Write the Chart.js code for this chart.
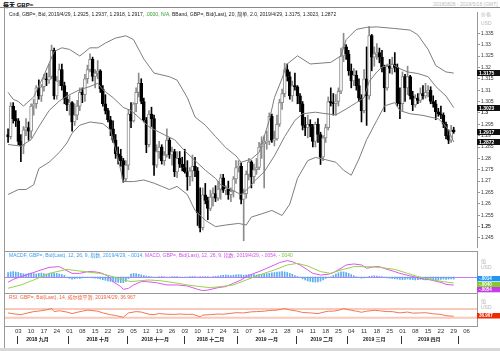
<!DOCTYPE html>
<html>
<head>
<meta charset="utf-8">
<script src="https://cdn.jsdelivr.net/npm/chart.js@4.4.0/dist/chart.umd.min.js"></script>
<style>
body { margin: 0; width: 500px; height: 351px; background: #fff; position: relative; overflow: hidden; }
canvas { position: absolute; left: 0; }
.ln { position: absolute; background: #999; }
.txt { position: absolute; font-family: "Liberation Sans", "Noto Sans CJK SC", sans-serif; white-space: nowrap; }
</style>
</head>
<body>
<div class="txt" style="left:3px;top:0px;font-size:6px;font-weight:bold;">每天 GBP=</div>
<div class="txt" style="right:2px;top:1px;font-size:5px;color:#bbb;">20180828 - 2019/5/18 (GMT)</div>
<div class="ln" style="left:0;top:7px;width:500px;height:1px;background:#888;"></div>
<div class="ln" style="left:4px;top:8px;width:1px;height:340px;"></div>
<div class="ln" style="left:5px;top:251px;width:472px;height:1px;"></div>
<div class="ln" style="left:5px;top:293px;width:472px;height:1px;"></div>
<div class="ln" style="left:0;top:348px;width:500px;height:3px;background:#d8d8d8;"></div>
<canvas id="main" width="500" height="243" style="top:8px"></canvas>
<canvas id="macd" width="500" height="42" style="top:251px"></canvas>
<canvas id="rsi" width="500" height="58" style="top:293px"></canvas>
<script>
// Daily GBP= candles, 2018/8/28 .. 2019/4/29 (index 0 = 2018/9/3, weekdays)
const openP = [1.2905,1.2895,1.3030,1.2975,1.2965,1.2875,1.2855,1.2925,1.2935,1.2920,1.3030,1.3040,1.3110,1.3075,1.3115,1.3150,1.3145,1.3160,1.3275,1.3075,1.3140,1.3190,1.3120,1.3060,1.3035,1.3045,1.2960,1.2990,1.3030,1.3090,1.3080,1.3150,1.3190,1.3235,1.3160,1.3175,1.3185,1.3105,1.3040,1.3010,1.2970,1.2930,1.2880,1.2820,1.2810,1.2790,1.2710,1.2770,1.2995,1.2965,1.3040,1.3090,1.3130,1.3050,1.2970,1.2860,1.2995,1.2975,1.2770,1.2830,1.2850,1.2790,1.2815,1.2880,1.2815,1.2830,1.2740,1.2800,1.2775,1.2760,1.2740,1.2720,1.2745,1.2765,1.2745,1.2560,1.2495,1.2640,1.2615,1.2580,1.2630,1.2645,1.2625,1.2665,1.2715,1.2660,1.2665,1.2640,1.2655,1.2710,1.2760,1.2765,1.2620,1.2645,1.2730,1.2785,1.2720,1.2750,1.2760,1.2850,1.2865,1.2870,1.2875,1.2985,1.2880,1.2885,1.2950,1.3045,1.3085,1.3190,1.3160,1.3075,1.3120,1.3115,1.3075,1.3040,1.2945,1.2935,1.2950,1.2940,1.2875,1.2950,1.2905,1.2805,1.2890,1.2935,1.3050,1.3045,1.3040,1.3050,1.3095,1.3250,1.3290,1.3260,1.3185,1.3140,1.3165,1.3120,1.3065,1.3010,1.3150,1.3075,1.3340,1.3245,1.3260,1.3265,1.3245,1.3200,1.3110,1.3205,1.3195,1.3215,1.3200,1.3045,1.3040,1.3160,1.3110,1.3160,1.3075,1.3035,1.3065,1.3055,1.3085,1.3075,1.3090,1.3100,1.3050,1.3040,1.3005,1.2995,1.2990,1.2950,1.2900,1.2880,1.2925];
const highP = [1.2930,1.3045,1.3045,1.3010,1.2975,1.2905,1.2940,1.2975,1.2960,1.3040,1.3060,1.3120,1.3145,1.3125,1.3170,1.3175,1.3215,1.3298,1.3285,1.3160,1.3215,1.3215,1.3135,1.3090,1.3075,1.3050,1.3040,1.3055,1.3110,1.3110,1.3170,1.3210,1.3260,1.3245,1.3190,1.3230,1.3190,1.3120,1.3080,1.3020,1.2985,1.2965,1.2905,1.2850,1.2840,1.2800,1.2790,1.3015,1.3045,1.3045,1.3110,1.3175,1.3150,1.3065,1.2980,1.3010,1.3025,1.2990,1.2860,1.2875,1.2860,1.2830,1.2930,1.2890,1.2850,1.2840,1.2830,1.2830,1.2805,1.2840,1.2790,1.2760,1.2815,1.2805,1.2760,1.2670,1.2670,1.2690,1.2630,1.2660,1.2670,1.2680,1.2700,1.2730,1.2730,1.2680,1.2700,1.2670,1.2720,1.2790,1.2790,1.2780,1.2665,1.2745,1.2800,1.2790,1.2775,1.2800,1.2870,1.2895,1.2900,1.2920,1.3000,1.2995,1.2920,1.2990,1.3060,1.3105,1.3218,1.3215,1.3180,1.3140,1.3175,1.3120,1.3085,1.3050,1.2980,1.2990,1.2970,1.2950,1.2960,1.2975,1.2915,1.2900,1.2950,1.3070,1.3110,1.3085,1.3080,1.3110,1.3285,1.3350,1.3300,1.3275,1.3215,1.3195,1.3185,1.3150,1.3080,1.3190,1.3290,1.3380,1.3345,1.3290,1.3305,1.3285,1.3275,1.3210,1.3215,1.3235,1.3245,1.3265,1.3215,1.3110,1.3180,1.3170,1.3205,1.3165,1.3095,1.3080,1.3085,1.3110,1.3120,1.3130,1.3120,1.3115,1.3075,1.3055,1.3020,1.3030,1.3000,1.2960,1.2925,1.2945,1.2937];
const lowP = [1.2870,1.2885,1.2955,1.2940,1.2860,1.2785,1.2820,1.2900,1.2880,1.2890,1.2990,1.3020,1.3060,1.3050,1.3095,1.3120,1.3130,1.3150,1.3060,1.3060,1.3120,1.3100,1.3040,1.3010,1.2990,1.2920,1.2945,1.2970,1.3010,1.3045,1.3050,1.3130,1.3180,1.3140,1.3110,1.3150,1.3090,1.3030,1.2995,1.2960,1.2900,1.2870,1.2800,1.2775,1.2765,1.2695,1.2700,1.2750,1.2935,1.2960,1.3005,1.3070,1.3040,1.2960,1.2825,1.2850,1.2940,1.2725,1.2760,1.2800,1.2775,1.2770,1.2805,1.2800,1.2770,1.2720,1.2715,1.2760,1.2745,1.2735,1.2660,1.2680,1.2700,1.2720,1.2505,1.2477,1.2485,1.2600,1.2530,1.2570,1.2590,1.2610,1.2615,1.2620,1.2650,1.2640,1.2620,1.2610,1.2630,1.2690,1.2740,1.2600,1.2438,1.2625,1.2705,1.2670,1.2690,1.2730,1.2750,1.2800,1.2670,1.2840,1.2860,1.2870,1.2855,1.2880,1.2940,1.3015,1.3070,1.3140,1.3060,1.3050,1.3100,1.3040,1.3005,1.2925,1.2900,1.2890,1.2895,1.2850,1.2850,1.2870,1.2773,1.2790,1.2870,1.2925,1.3030,1.2990,1.2990,1.3030,1.3085,1.3225,1.3235,1.3165,1.3110,1.3120,1.3100,1.3050,1.2960,1.3000,1.2945,1.3060,1.3185,1.3205,1.3235,1.3220,1.3180,1.3005,1.3100,1.3175,1.3170,1.3180,1.3030,1.2975,1.3010,1.3050,1.3080,1.3060,1.3010,1.3025,1.3040,1.3045,1.3060,1.3065,1.3070,1.3040,1.3025,1.2970,1.2985,1.2975,1.2935,1.2885,1.2865,1.2870,1.2910];
const closeP = [1.2895,1.3030,1.2975,1.2965,1.2875,1.2855,1.2925,1.2935,1.2920,1.3030,1.3040,1.3110,1.3075,1.3115,1.3150,1.3145,1.3160,1.3275,1.3075,1.3140,1.3190,1.3120,1.3060,1.3035,1.3045,1.2960,1.2990,1.3030,1.3090,1.3080,1.3150,1.3190,1.3235,1.3160,1.3175,1.3185,1.3105,1.3040,1.3010,1.2970,1.2930,1.2880,1.2820,1.2810,1.2790,1.2710,1.2770,1.2995,1.2965,1.3040,1.3090,1.3130,1.3050,1.2970,1.2860,1.2995,1.2975,1.2770,1.2830,1.2850,1.2790,1.2815,1.2880,1.2815,1.2830,1.2740,1.2800,1.2775,1.2760,1.2740,1.2720,1.2745,1.2765,1.2745,1.2560,1.2495,1.2640,1.2615,1.2580,1.2630,1.2645,1.2625,1.2665,1.2715,1.2660,1.2665,1.2640,1.2655,1.2710,1.2760,1.2765,1.2620,1.2645,1.2730,1.2785,1.2720,1.2750,1.2760,1.2850,1.2865,1.2870,1.2875,1.2985,1.2880,1.2885,1.2950,1.3045,1.3085,1.3190,1.3160,1.3075,1.3120,1.3115,1.3075,1.3040,1.2945,1.2935,1.2950,1.2940,1.2875,1.2950,1.2905,1.2805,1.2890,1.2935,1.3050,1.3045,1.3040,1.3050,1.3095,1.3250,1.3290,1.3260,1.3185,1.3140,1.3165,1.3120,1.3065,1.3010,1.3150,1.3075,1.3340,1.3245,1.3260,1.3265,1.3245,1.3200,1.3110,1.3205,1.3195,1.3215,1.3200,1.3045,1.3040,1.3160,1.3110,1.3160,1.3075,1.3035,1.3065,1.3055,1.3085,1.3075,1.3090,1.3100,1.3050,1.3040,1.3005,1.2995,1.2990,1.2950,1.2900,1.2880,1.2920,1.2917];

// Bollinger band (20, 2.0) at sample days
const upperX = [-4,-2,0,2,6,10,14,17,20,24,28,31,34,38,42,45,49,53,59,62,66,69,73,77,81,85,87,91,94,98,100,103,105,109,114,122,126,128,132,136,140,147,153,156,160,163,167,170];
const upperY = [1.3090,1.3060,1.3050,1.3030,1.3070,1.3165,1.3270,1.3286,1.3279,1.3250,1.3286,1.3286,1.3307,1.3329,1.3339,1.3322,1.3237,1.3175,1.3159,1.3144,1.3067,1.2982,1.2946,1.2896,1.2847,1.2811,1.2783,1.2797,1.2826,1.2967,1.3067,1.3152,1.3215,1.3251,1.3215,1.3222,1.3251,1.3322,1.3367,1.3376,1.3378,1.3371,1.3364,1.3343,1.3279,1.3208,1.3180,1.3175];
const midX = [-4,1,5,8,12,16,19,24,28,31,33,37,41,44,47,51,55,57,61,65,69,73,77,79,83,87,90,92,96,100,104,108,111,116,119,124,128,132,135,137,140,142,146,149,152,156,160,163,167,170];
const midY = [1.2861,1.2854,1.2882,1.2939,1.3010,1.3052,1.3074,1.3102,1.3116,1.3130,1.3102,1.3067,1.3024,1.3010,1.2981,1.2939,1.2915,1.2904,1.2882,1.2833,1.2790,1.2748,1.2712,1.2684,1.2663,1.2641,1.2670,1.2698,1.2741,1.2811,1.2896,1.2967,1.2996,1.3003,1.2998,1.2991,1.3017,1.3045,1.3067,1.3138,1.3180,1.3201,1.3215,1.3194,1.3180,1.3173,1.3159,1.3116,1.3074,1.3023];
const lowX = [-4,0,3,6,8,12,16,19,21,24,28,33,36,39,41,45,49,53,56,59,62,66,69,73,77,81,86,89,91,95,99,103,106,109,113,116,119,124,127,130,133,136,140,143,147,149,153,158,161,164,166,168,170];
const lowY = [1.2641,1.2663,1.2663,1.2684,1.2755,1.2783,1.2826,1.2868,1.2911,1.2946,1.2960,1.2953,1.2925,1.2797,1.2698,1.2698,1.2705,1.2691,1.2677,1.2663,1.2677,1.2641,1.2571,1.2528,1.2500,1.2507,1.2514,1.2507,1.2542,1.2556,1.2571,1.2549,1.2599,1.2712,1.2790,1.2804,1.2797,1.2783,1.2748,1.2726,1.2797,1.2882,1.2967,1.3031,1.3045,1.3010,1.2996,1.2989,1.2981,1.2974,1.2953,1.2925,1.2872];

// MACD (12, 26, 9)
const macdHist = [.0030,.0034,.0036,.0033,.0030,
  .0025,.0022,.0020,.0024,.0026,.0022,.0020,.0024,.0026,.0022,.0020,
  .0022,.0024,.0026,.0024,.0020,.0016,.0010,
  -.0005,-.0010,-.0014,-.0012,-.0008,-.0010,-.0006,-.0004,
  -.0004,-.0002,-.0006,-.0008,-.0010,
  -.0014,-.0018,-.0022,-.0026,-.0030,-.0032,-.0034,-.0036,-.0038,
  -.0038,-.0030,-.0010,
  .0020,.0024,.0022,.0018,.0014,.0010,.0006,
  .0004,.0002,0,-.0002,.0002,.0004,.0002,0,-.0002,.0002,.0003,.0002,0,-.0002,-.0003,-.0002,.0002,.0003,.0002,0,.0002,
  .0002,.0003,.0002,0,.0002,.0004,.0006,
  .0010,.0012,.0014,.0012,.0010,.0012,.0014,.0016,.0014,.0012,.0014,.0016,.0018,.0016,.0014,
  .0016,.0018,.0020,.0022,.0024,.0028,.0030,.0032,.0034,.0036,.0034,.0030,.0024,.0018,
  .0010,.0004,-.0004,-.0012,
  -.0020,-.0026,-.0030,-.0032,-.0034,-.0032,-.0028,
  -.0020,-.0010,-.0004,.0002,
  .0010,.0020,.0028,.0034,.0034,.0030,.0024,.0016,.0008,
  .0002,-.0004,-.0008,-.0006,-.0002,
  .0004,.0006,.0008,.0006,.0004,.0002,
  -.0004,-.0006,-.0008,-.0010,-.0012,-.0014,
  -.0016,-.0018,-.0016,-.0014,-.0016,-.0018,-.0020,-.0018,-.0016,-.0018,-.0020,-.0018,-.0016,-.0018,-.0020,-.0018,-.0016,-.0014,-.0016,-.0014,-.0012,-.0014];
const macdX = [-4,-2,1,5,8,12,16,18,21,24,27,29,32,35,37,40,41,43,45,48,50,54,58,62,66,70,72,74,78,81,84,87,89,92,94,97,100,102,105,107,110,113,115,118,121,123,126,128,131,134,136,139,141,144,147,149,153,157,161,165,167,170];
const macdY = [-.0035,-.0016,.0002,.0024,.0042,.0064,.0069,.0051,.0024,.0024,.0036,.0036,.0029,.0007,-.0031,-.0064,-.0082,-.0076,-.0053,-.0031,-.0031,-.0038,-.0053,-.0053,-.0060,-.0082,-.0091,-.0087,-.0071,-.0064,-.0042,-.0020,.0002,.0024,.0036,.0058,.0080,.0096,.0109,.0102,.0080,.0047,.0024,.0013,.0018,.0029,.0058,.0080,.0087,.0080,.0058,.0069,.0069,.0051,.0036,.0024,.0007,-.0009,-.0020,-.0036,-.0049,-.0054];
const sigX = [-4,1,6,12,19,23,28,32,36,40,44,48,51,55,61,66,71,75,79,84,89,94,100,105,109,113,118,122,126,131,136,141,147,152,157,162,166,170];
const sigY = [-.0075,-.0053,-.0020,.0024,.0051,.0042,.0031,.0024,.0007,-.0016,-.0031,-.0024,-.0020,-.0024,-.0038,-.0053,-.0064,-.0071,-.0064,-.0053,-.0020,.0013,.0047,.0080,.0091,.0073,.0036,.0024,.0047,.0069,.0069,.0064,.0051,.0024,-.0002,-.0020,-.0031,-.0040];

// RSI (14)
const rsiX = [-4,-2,1,3,6,9,11,13,14,16,19,21,23,25,27,31,33,36,38,41,43,46,48,51,53,55,58,61,63,66,68,71,72,75,78,80,83,85,88,91,93,96,98,101,104,106,109,111,114,117,119,121,123,125,127,130,132,134,136,139,141,144,146,149,152,154,157,159,162,165,167,170];
const rsiY = [52,48,44,50,58,62,66,72,58,62,56,49,55,60,65,60,52,44,40,32,52,58,56,46,44,49,46,45,47,45,46,34,42,44,47,46,50,53,52,57,58,60,63,65,72,66,60,54,52,49,55,60,60,64,72,64,60,55,60,64,62,58,58,52,56,51,52,53,48,45,39,36.967];
const rsiLevels = [70, 30];

// axis labels
const priceTicks = [1.245,1.25,1.255,1.26,1.265,1.27,1.275,1.28,1.285,1.29,1.295,1.3,1.305,1.31,1.315,1.32,1.325,1.33,1.335];
const weekIdx = [0,5,10,15,20,25,30,35,40,45,50,55,60,65,70,75,80,85,90,95,100,105,110,115,120,125,130,135,140,145,150,155,160,165,170,175];
const dayLabels = ['03','10','17','24','01','08','15','22','29','05','12','19','26','03','10','17','24','31','07','14','21','28','04','11','18','25','04','11','18','25','01','08','15','22','29','06'];
const monthStarts = [0, 20, 43, 65, 86, 109, 129, 150, 172];
const monthNames = ['2018 九月','2018 十月','2018 十一月','2018 十二月','2019 一月','2019 二月','2019 三月','2019 四月'];

const X_MIN = -5.2, X_MAX = 179.1;
const FONT = '"Liberation Sans", "Noto Sans CJK SC", sans-serif';
const dayIdx = closeP.map((_, k) => k - 4);
const bear = k => closeP[k] < openP[k];
const pts = (xs, ys) => xs.map((x, k) => ({x, y: ys[k]}));

Chart.defaults.font.family = FONT;
Chart.defaults.animation = false;
Chart.defaults.plugins.legend.display = false;
Chart.defaults.plugins.tooltip.enabled = false;

function drawParts(ctx, parts, x, y, size) {
    ctx.save();
    ctx.font = size + 'px ' + FONT;
    ctx.textBaseline = 'middle';
    parts.forEach(([t, c]) => {
        ctx.fillStyle = c;
        ctx.fillText(t, x, y);
        x += ctx.measureText(t).width;
    });
    ctx.restore();
}

// value boxes on the right axis, pushed down when they overlap
function drawBoxes(ctx, scale, items, h, size) {
    ctx.save();
    ctx.font = 'bold ' + size + 'px ' + FONT;
    ctx.textBaseline = 'middle';
    let prev = -100;
    items.map(it => ({...it, py: scale.getPixelForValue(it.v)}))
        .sort((a, b) => a.py - b.py)
        .forEach(it => {
            const y = Math.max(it.py, prev + h);
            prev = y;
            ctx.fillStyle = it.bg;
            ctx.fillRect(477, Math.round(y - h / 2), 23, h);
            ctx.fillStyle = '#fff';
            ctx.fillText(it.t, 479, Math.round(y - h / 2) + h / 2 + 0.5);
        });
    ctx.restore();
}

function sideText(ctx, lines) {
    ctx.save();
    ctx.font = '5px ' + FONT;
    ctx.fillStyle = '#b5b5b5';
    ctx.textBaseline = 'middle';
    lines.forEach(([t, y]) => ctx.fillText(t, 481, y));
    ctx.restore();
}

const hiddenX = { type: 'linear', min: X_MIN, max: X_MAX, offset: false, display: false };
const rightAxis = (min, max) => ({
    position: 'right', min, max,
    afterFit: s => { s.width = 23; },
    ticks: { display: false },
    grid: { display: false },
    border: { color: '#999' }
});

// Gráfico de velas
new Chart(document.getElementById('main'), {
    type: 'bar',
    data: {
        datasets: [
            { type: 'line', data: pts(upperX, upperY), borderColor: '#7d7d7d', borderWidth: 1, pointRadius: 0, order: 0 },
            { type: 'line', data: pts(midX, midY), borderColor: '#7d7d7d', borderWidth: 1, pointRadius: 0, order: 0 },
            { type: 'line', data: pts(lowX, lowY), borderColor: '#7d7d7d', borderWidth: 1, pointRadius: 0, order: 0 },
            {
                data: dayIdx.map((x, k) => ({x, y: [openP[k], closeP[k]]})),
                backgroundColor: c => bear(c.dataIndex) ? '#000' : '#fff',
                borderColor: c => bear(c.dataIndex) ? '#000' : '#8c8c8c',
                borderWidth: 1, borderSkipped: false, barThickness: 3, minBarLength: 1,
                grouped: false, order: 1
            },
            {
                data: dayIdx.map((x, k) => ({x, y: [lowP[k], highP[k]]})),
                backgroundColor: c => bear(c.dataIndex) ? '#000' : '#8c8c8c',
                barThickness: 1, grouped: false, order: 2
            }
        ]
    },
    options: {
        responsive: false,
        layout: { padding: { left: 5 } },
        scales: {
            x: hiddenX,
            y: {
                position: 'right', min: 1.24104, max: 1.34435,
                afterFit: s => { s.width = 23; },
                afterBuildTicks: s => { s.ticks = priceTicks.map(v => ({value: v})); },
                ticks: {
                    autoSkip: false, padding: 1, color: '#333',
                    font: c => ({ size: 5, family: FONT,
                        weight: c.tick && Math.abs(c.tick.value * 20 - Math.round(c.tick.value * 20)) < 1e-6 ? 'bold' : 'normal' }),
                    callback: v => String(+v.toFixed(3))
                },
                grid: { drawOnChartArea: false, tickLength: 3, color: '#999' },
                border: { color: '#999' }
            }
        }
    },
    plugins: [{
        id: 'mainDecor',
        afterDraw(chart) {
            const ctx = chart.ctx;
            drawParts(ctx, [
                ['Cndl, GBP=, Bid, 2019/4/29, 1.2925, 1.2937, 1.2918, 1.2917, ', '#222'],
                ['.0000, N/A, ', '#2a9a2a'],
                ['BBand, GBP=, Bid(Last), 20, 简单, 2.0, 2019/4/29, 1.3175, 1.3023, 1.2872', '#222']
            ], 9, 7, 5);
            sideText(ctx, [['价格', 7], ['USD', 16]]);
            drawBoxes(ctx, chart.scales.y, [
                {v: upperY[upperY.length - 1], t: '1.3175', bg: '#111'},
                {v: midY[midY.length - 1], t: '1.3023', bg: '#111'},
                {v: closeP[closeP.length - 1], t: '1.2917', bg: '#111'},
                {v: lowY[lowY.length - 1], t: '1.2872', bg: '#111'}
            ], 6, 5);
        }
    }]
});

// MACD
new Chart(document.getElementById('macd'), {
    type: 'bar',
    data: {
        datasets: [
            { type: 'line', data: pts(sigX, sigY), borderColor: '#9ad04a', borderWidth: 1, pointRadius: 0, order: 0 },
            { type: 'line', data: pts(macdX, macdY), borderColor: '#dd55ee', borderWidth: 1, pointRadius: 0, order: 0 },
            { data: dayIdx.map((x, k) => ({x, y: macdHist[k]})), backgroundColor: '#5aaef0', barThickness: 1, grouped: false, order: 1 }
        ]
    },
    options: {
        responsive: false,
        layout: { padding: { left: 5 } },
        scales: { x: hiddenX, y: rightAxis(-0.01067, 0.01733) }
    },
    plugins: [{
        id: 'macdDecor',
        beforeDatasetsDraw(chart) {
            const {ctx, chartArea: a, scales: {y}} = chart;
            ctx.save();
            ctx.strokeStyle = '#cc77ee';
            ctx.lineWidth = 1;
            ctx.beginPath();
            ctx.moveTo(a.left, Math.round(y.getPixelForValue(0)) + 0.5);
            ctx.lineTo(a.right, Math.round(y.getPixelForValue(0)) + 0.5);
            ctx.stroke();
            ctx.restore();
        },
        afterDraw(chart) {
            const ctx = chart.ctx;
            drawParts(ctx, [
                ['MACDF, GBP=, Bid(Last), 12, 26, 9, 指数, 2019/4/29, -.0014, ', '#3a9be8'],
                ['MACD, GBP=, Bid(Last), 12, 26, 9, 指数, 2019/4/29, -.0054, ', '#d050e8'],
                ['-.0040', '#7cc23a']
            ], 9, 4.5, 5);
            sideText(ctx, [['值', 11], ['USD', 17]]);
            drawBoxes(ctx, chart.scales.y, [
                {v: macdHist[macdHist.length - 1], t: '-.0014', bg: '#2196f0'},
                {v: sigY[sigY.length - 1], t: '-.0040', bg: '#86c830'},
                {v: macdY[macdY.length - 1], t: '-.0054', bg: '#c83ce8'}
            ], 5.3, 4.5);
        }
    }]
});

// RSI + eje de fechas
new Chart(document.getElementById('rsi'), {
    type: 'line',
    data: {
        datasets: [
            { data: pts(rsiX, rsiY), borderColor: '#f27550', borderWidth: 1, pointRadius: 0 }
        ]
    },
    options: {
        responsive: false,
        layout: { padding: { left: 5 } },
        scales: {
            x: {
                type: 'linear', min: X_MIN, max: X_MAX, offset: false,
                afterFit: s => { s.height = 25; },
                afterBuildTicks: s => { s.ticks = weekIdx.map(v => ({value: v})); },
                ticks: { autoSkip: false, maxRotation: 0, padding: 2, color: '#333', font: { size: 6 },
                    callback: (v, i) => dayLabels[i] },
                grid: { display: false, drawTicks: false },
                border: { color: '#999' }
            },
            y: rightAxis(-8.3, 143.8)
        }
    },
    plugins: [{
        id: 'rsiDecor',
        beforeDatasetsDraw(chart) {
            const {ctx, chartArea: a, scales: {y}} = chart;
            ctx.save();
            ctx.strokeStyle = '#f9c9ba';
            ctx.lineWidth = 2;
            rsiLevels.forEach(v => {
                ctx.beginPath();
                ctx.moveTo(a.left, y.getPixelForValue(v));
                ctx.lineTo(a.right, y.getPixelForValue(v));
                ctx.stroke();
            });
            ctx.restore();
        },
        afterDraw(chart) {
            const {ctx, scales: {x, y}} = chart;
            drawParts(ctx, [['RSI, GBP=, Bid(Last), 14, 威尔德平滑, 2019/4/29, 36.967', '#f0603a']], 9, 5, 5);
            sideText(ctx, [['值', 9], ['USD', 15]]);
            drawBoxes(ctx, y, [{v: rsiY[rsiY.length - 1], t: '36.967', bg: '#ee2a00'}], 5.5, 4.5);
            // meses
            ctx.save();
            ctx.strokeStyle = '#333';
            ctx.lineWidth = 1;
            ctx.font = 'bold 5px ' + FONT;
            ctx.fillStyle = '#111';
            ctx.textAlign = 'center';
            ctx.textBaseline = 'middle';
            monthStarts.forEach((m, k) => {
                const sx = Math.round(x.getPixelForValue(m - 0.5)) + 0.5;
                ctx.beginPath();
                ctx.moveTo(sx, 43);
                ctx.lineTo(sx, 51);
                ctx.stroke();
                if (k < monthNames.length) {
                    const from = k === 0 ? dayIdx[0] : m;
                    const mid = (from - 0.5 + monthStarts[k + 1] - 0.5) / 2;
                    ctx.fillText(monthNames[k], x.getPixelForValue(mid), 46.5);
                }
            });
            ctx.restore();
        }
    }]
});
</script>
</body>
</html>
